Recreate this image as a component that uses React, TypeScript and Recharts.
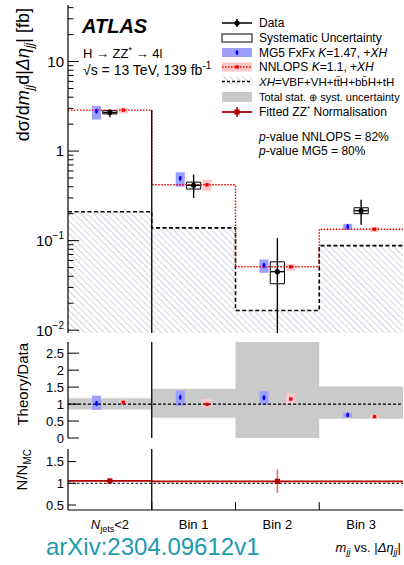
import {
  ComposedChart,
  XAxis,
  YAxis,
  Line,
  Area,
  Scatter,
  ErrorBar,
  ReferenceArea,
  ReferenceLine,
} from "recharts";

const BIN_LABELS = ["Njets<2", "Bin 1", "Bin 2", "Bin 3"];

// measured cross sections [fb]
const DATA_XS = [2.7, 0.415, 0.045, 0.216];
const DATA_TOT_LO = [2.39, 0.3, 0, 0.15];
const DATA_TOT_HI = [2.94, 0.547, 0.107, 0.286];
const DATA_SYST_LO = [2.6, 0.377, 0.033, 0.2];
const DATA_SYST_HI = [2.83, 0.45, 0.058, 0.233];

// predictions [fb]
const MG5_XS = [2.8, 0.497, 0.053, 0.143];
const MG5_LO = [2.25, 0.4, 0.0437, 0.132];
const MG5_HI = [3.2, 0.58, 0.0617, 0.154];
const NNLOPS_XS = [2.87, 0.42, 0.051, 0.134];
const NNLOPS_LO = [2.62, 0.36, 0.046, 0.125];
const NNLOPS_HI = [3.05, 0.48, 0.0547, 0.142];
const XH_XS = [0.21, 0.139, 0.0166, 0.088];

// theory / data
const TOTAL_UNC_LO = [0.84, 0.6, 0, 0.57];
const TOTAL_UNC_HI = [1.17, 1.45, 3.2, 1.52];
const MG5_RATIO = [1.02, 1.2, 1.19, 0.68];
const MG5_RATIO_LO = [0.83, 0.95, 0.98, 0.61];
const MG5_RATIO_HI = [1.25, 1.4, 1.38, 0.74];
const NNLOPS_RATIO = [1.05, 0.99, 1.15, 0.63];
const NNLOPS_RATIO_LO = [1.0, 0.9, 1.01, 0.58];
const NNLOPS_RATIO_HI = [1.13, 1.15, 1.31, 0.68];

// fitted ZZ* normalisation per region (bin edges)
const ZZ_REGION_START = [0, 1];
const ZZ_REGION_END = [1, 4];
const ZZ_NORM = [1.055, 1.045];
const ZZ_NORM_LO = [1.035, 0.78];
const ZZ_NORM_HI = [1.075, 1.32];

const Y_MIN = 0.0093;
const Y_MAX = 42.8;
const RATIO_DOMAIN: [number, number] = [0, 2.83];
const NORM_DOMAIN: [number, number] = [0.385, 1.79];
const RATIO_TICKS = [0, 0.5, 1, 1.5, 2, 2.5];
const NORM_TICKS = [0.5, 1, 1.5];

const LOG_TICKS: number[] = [];
for (let e = -2; e <= 1; e++) {
  for (let m = 1; m <= 9; m++) {
    const v = m * Math.pow(10, e);
    if (v >= Y_MIN && v <= Y_MAX) LOG_TICKS.push(v);
  }
}

const MG5_SHIFT = -0.16;
const NNLOPS_SHIFT = 0.16;
const BOX_HALF = 0.054;
const SYST_HALF = 0.085;
const DATA_XERR = 0.08;

const MG5_FILL = "#9e9eff";
const MG5_COLOR = "#0000ff";
const NNLOPS_FILL = "#ffc8c8";
const NNLOPS_COLOR = "#ee0000";
const BAND_FILL = "#cacaca";
const ZZ_COLOR = "#b00000";
const FONT = "'Liberation Sans', Arial, Helvetica, sans-serif";

const centre = (i: number) => i + 0.5;

// histogram rows for stepAfter curves: one point per lower edge + closing edge
function stepRows<T>(vals: T[]) {
  const rows = vals.map((v, i) => ({ x: i, y: v }));
  rows.push({ x: vals.length, y: vals[vals.length - 1] });
  return rows;
}

const isDecade = (v: number) =>
  Math.abs(Math.log10(v) - Math.round(Math.log10(v))) < 1e-6;

function LogLabel({ v }: { v: number }) {
  const e = Math.round(Math.log10(v));
  if (e === 0) return <>1</>;
  if (e === 1) return <>10</>;
  return (
    <>
      10
      <tspan dy={-7} fontSize={10}>
        {`−${-e}`}
      </tspan>
    </>
  );
}

function makeYTick(side: "left" | "right", len: number, fontSize: number, log: boolean) {
  return (props: any) => {
    const { x, y, payload } = props;
    const v = payload.value as number;
    const major = log ? isDecade(v) : true;
    const l = major ? len : len / 2;
    const dir = side === "left" ? 1 : -1;
    return (
      <g>
        <line x1={x} x2={x + dir * l} y1={y} y2={y} stroke="#000" strokeWidth={1} />
        {side === "left" && major && (
          <text
            x={x - 4}
            y={y + fontSize * 0.36}
            textAnchor="end"
            fontSize={fontSize}
            fill="#000"
          >
            {log ? <LogLabel v={v} /> : String(v)}
          </text>
        )}
      </g>
    );
  };
}

function makeXTick(side: "top" | "bottom", len: number) {
  return (props: any) => {
    const { x, y } = props;
    const dir = side === "bottom" ? -1 : 1;
    return <line x1={x} x2={x} y1={y} y2={y + dir * len} stroke="#000" strokeWidth={1} />;
  };
}

function BinLabelTick(props: any) {
  const { x, y, payload } = props;
  const v = payload.value as number;
  if (Number.isInteger(v)) {
    return <line x1={x} x2={x} y1={y} y2={y - 8} stroke="#000" strokeWidth={1} />;
  }
  const label = BIN_LABELS[Math.floor(v)];
  if (label.startsWith("Njets")) {
    return (
      <text x={x} y={y + 19} textAnchor="middle" fontSize={13} fill="#000">
        <tspan fontStyle="italic">N</tspan>
        <tspan fontSize={9} dy={3}>
          jets
        </tspan>
        <tspan dy={-3}>{label.slice(5)}</tspan>
      </text>
    );
  }
  return (
    <text x={x} y={y + 19} textAnchor="middle" fontSize={13} fill="#000">
      {label}
    </text>
  );
}

const dataDot = (p: any) => <circle cx={p.cx} cy={p.cy} r={2.6} fill="#000" />;
const mg5Dot = (p: any) => <ellipse cx={p.cx} cy={p.cy} rx={1.4} ry={2.6} fill={MG5_COLOR} />;
const nnlopsDot = (p: any) => (
  <rect x={p.cx - 1.7} y={p.cy - 1.7} width={3.4} height={3.4} fill={NNLOPS_COLOR} />
);
const zzDot = (p: any) => (
  <rect x={p.cx - 2.6} y={p.cy - 2.6} width={5.2} height={5.2} fill={ZZ_COLOR} />
);

const dataRows = DATA_XS.map((y, i) => ({
  x: centre(i),
  y,
  ey: [y - Math.max(DATA_TOT_LO[i], Y_MIN), DATA_TOT_HI[i] - y],
  ex: DATA_XERR,
}));
const mg5Rows = MG5_XS.map((y, i) => ({ x: centre(i) + MG5_SHIFT, y }));
const nnlopsRows = NNLOPS_XS.map((y, i) => ({ x: centre(i) + NNLOPS_SHIFT, y }));
const mg5RatioRows = MG5_RATIO.map((y, i) => ({ x: centre(i) + MG5_SHIFT, y }));
const nnlopsRatioRows = NNLOPS_RATIO.map((y, i) => ({ x: centre(i) + NNLOPS_SHIFT, y }));
const bandRows = stepRows(TOTAL_UNC_LO.map((lo, i) => [lo, TOTAL_UNC_HI[i]]));
const zzLineRows = [
  ...ZZ_NORM.map((y, i) => ({ x: ZZ_REGION_START[i], y })),
  { x: ZZ_REGION_END[ZZ_REGION_END.length - 1], y: ZZ_NORM[ZZ_NORM.length - 1] },
];
const zzRows = ZZ_NORM.map((y, i) => ({
  x: (ZZ_REGION_START[i] + ZZ_REGION_END[i]) / 2,
  y,
  ey: [y - ZZ_NORM_LO[i], ZZ_NORM_HI[i] - y],
}));

const axisLine = { stroke: "#000", strokeWidth: 1.2 };

function MainPanel() {
  return (
    <ComposedChart width={404} height={342} margin={{ top: 5, right: 1, bottom: 9, left: 0 }}>
      <XAxis
        type="number"
        dataKey="x"
        domain={[0, 4]}
        allowDataOverflow
        ticks={[1, 2, 3]}
        interval={0}
        height={0}
        tickSize={0}
        tickMargin={0}
        axisLine={axisLine}
        tick={makeXTick("bottom", 8)}
      />
      <XAxis
        xAxisId="t"
        orientation="top"
        type="number"
        domain={[0, 4]}
        allowDataOverflow
        ticks={[1, 2, 3]}
        interval={0}
        height={0}
        tickSize={0}
        tickMargin={0}
        axisLine={axisLine}
        tick={makeXTick("top", 8)}
      />
      <YAxis
        type="number"
        dataKey="y"
        scale="log"
        domain={[Y_MIN, Y_MAX]}
        allowDataOverflow
        ticks={LOG_TICKS}
        interval={0}
        width={68}
        tickSize={0}
        tickMargin={0}
        axisLine={axisLine}
        tick={makeYTick("left", 11, 15, true)}
      />
      <YAxis
        yAxisId="r"
        orientation="right"
        type="number"
        scale="log"
        domain={[Y_MIN, Y_MAX]}
        allowDataOverflow
        ticks={LOG_TICKS}
        interval={0}
        width={0}
        tickSize={0}
        tickMargin={0}
        axisLine={axisLine}
        tick={makeYTick("right", 11, 15, true)}
      />

      <Area
        data={stepRows(XH_XS)}
        dataKey="y"
        type="stepAfter"
        baseValue={Y_MIN}
        fill="url(#xh-hatch)"
        fillOpacity={1}
        stroke="#000"
        strokeWidth={1.6}
        strokeDasharray="4 2.5"
        dot={false}
        activeDot={false}
        isAnimationActive={false}
      />
      <Line
        data={stepRows(NNLOPS_XS)}
        dataKey="y"
        type="stepAfter"
        stroke={NNLOPS_COLOR}
        strokeWidth={1.4}
        strokeDasharray="1.5 1.5"
        dot={false}
        activeDot={false}
        isAnimationActive={false}
      />

      {MG5_XS.map((_, i) => (
        <ReferenceArea
          key={`mg5-${i}`}
          x1={centre(i) + MG5_SHIFT - BOX_HALF}
          x2={centre(i) + MG5_SHIFT + BOX_HALF}
          y1={MG5_LO[i]}
          y2={MG5_HI[i]}
          fill={MG5_FILL}
          fillOpacity={1}
          stroke="none"
        />
      ))}
      {NNLOPS_XS.map((_, i) => (
        <ReferenceArea
          key={`nnlops-${i}`}
          x1={centre(i) + NNLOPS_SHIFT - BOX_HALF}
          x2={centre(i) + NNLOPS_SHIFT + BOX_HALF}
          y1={NNLOPS_LO[i]}
          y2={NNLOPS_HI[i]}
          fill={NNLOPS_FILL}
          fillOpacity={1}
          stroke="none"
        />
      ))}
      {DATA_XS.map((_, i) => (
        <ReferenceArea
          key={`syst-${i}`}
          x1={centre(i) - SYST_HALF}
          x2={centre(i) + SYST_HALF}
          y1={DATA_SYST_LO[i]}
          y2={DATA_SYST_HI[i]}
          fill="none"
          fillOpacity={0}
          stroke="#000"
          strokeWidth={1}
        />
      ))}
      <ReferenceLine
        segment={[
          { x: 1, y: NNLOPS_XS[0] },
          { x: 1, y: Y_MIN },
        ]}
        stroke="#000"
        strokeWidth={1.3}
      />

      <Scatter data={mg5Rows} dataKey="y" shape={mg5Dot} isAnimationActive={false} />
      <Scatter data={nnlopsRows} dataKey="y" shape={nnlopsDot} isAnimationActive={false} />
      <Scatter data={dataRows} dataKey="y" shape={dataDot} isAnimationActive={false}>
        <ErrorBar dataKey="ey" direction="y" width={0} stroke="#000" strokeWidth={1.4} />
        <ErrorBar dataKey="ex" direction="x" width={0} stroke="#000" strokeWidth={1.4} />
      </Scatter>
    </ComposedChart>
  );
}

function RatioPanel() {
  return (
    <ComposedChart width={404} height={108} margin={{ top: 4, right: 1, bottom: 8, left: 0 }}>
      <XAxis
        type="number"
        dataKey="x"
        domain={[0, 4]}
        allowDataOverflow
        ticks={[1, 2, 3]}
        interval={0}
        height={0}
        tickSize={0}
        tickMargin={0}
        axisLine={axisLine}
        tick={makeXTick("bottom", 8)}
      />
      <XAxis
        xAxisId="t"
        orientation="top"
        type="number"
        domain={[0, 4]}
        allowDataOverflow
        ticks={[1, 2, 3]}
        interval={0}
        height={0}
        tickSize={0}
        tickMargin={0}
        axisLine={axisLine}
        tick={makeXTick("top", 8)}
      />
      <YAxis
        type="number"
        dataKey="y"
        domain={RATIO_DOMAIN}
        allowDataOverflow
        ticks={RATIO_TICKS}
        interval={0}
        width={68}
        tickSize={0}
        tickMargin={0}
        axisLine={axisLine}
        tick={makeYTick("left", 11, 13, false)}
      />
      <YAxis
        yAxisId="r"
        orientation="right"
        type="number"
        domain={RATIO_DOMAIN}
        allowDataOverflow
        ticks={RATIO_TICKS}
        interval={0}
        width={0}
        tickSize={0}
        tickMargin={0}
        axisLine={axisLine}
        tick={makeYTick("right", 11, 13, false)}
      />

      <Area
        data={bandRows}
        dataKey="y"
        type="stepAfter"
        fill={BAND_FILL}
        fillOpacity={1}
        stroke="none"
        dot={false}
        activeDot={false}
        isAnimationActive={false}
      />
      <ReferenceLine y={1} stroke="#000" strokeWidth={1.2} strokeDasharray="3 2" />
      <ReferenceLine x={1} stroke="#000" strokeWidth={1.3} />

      {MG5_RATIO.map((_, i) => (
        <ReferenceArea
          key={`mg5r-${i}`}
          x1={centre(i) + MG5_SHIFT - BOX_HALF}
          x2={centre(i) + MG5_SHIFT + BOX_HALF}
          y1={MG5_RATIO_LO[i]}
          y2={MG5_RATIO_HI[i]}
          fill={MG5_FILL}
          fillOpacity={1}
          stroke="none"
        />
      ))}
      {NNLOPS_RATIO.map((_, i) => (
        <ReferenceArea
          key={`nnlopsr-${i}`}
          x1={centre(i) + NNLOPS_SHIFT - BOX_HALF}
          x2={centre(i) + NNLOPS_SHIFT + BOX_HALF}
          y1={NNLOPS_RATIO_LO[i]}
          y2={NNLOPS_RATIO_HI[i]}
          fill={NNLOPS_FILL}
          fillOpacity={1}
          stroke="none"
        />
      ))}

      <Scatter data={mg5RatioRows} dataKey="y" shape={mg5Dot} isAnimationActive={false} />
      <Scatter data={nnlopsRatioRows} dataKey="y" shape={nnlopsDot} isAnimationActive={false} />
    </ComposedChart>
  );
}

function NormPanel() {
  return (
    <ComposedChart width={404} height={120} margin={{ top: 9, right: 1, bottom: 0, left: 0 }}>
      <XAxis
        type="number"
        dataKey="x"
        domain={[0, 4]}
        allowDataOverflow
        ticks={[0.5, 1, 1.5, 2, 2.5, 3, 3.5]}
        interval={0}
        height={50}
        tickSize={0}
        tickMargin={0}
        axisLine={axisLine}
        tick={BinLabelTick}
      />
      <XAxis
        xAxisId="t"
        orientation="top"
        type="number"
        domain={[0, 4]}
        allowDataOverflow
        ticks={[1, 2, 3]}
        interval={0}
        height={0}
        tickSize={0}
        tickMargin={0}
        axisLine={axisLine}
        tick={makeXTick("top", 8)}
      />
      <YAxis
        type="number"
        dataKey="y"
        domain={NORM_DOMAIN}
        allowDataOverflow
        ticks={NORM_TICKS}
        interval={0}
        width={68}
        tickSize={0}
        tickMargin={0}
        axisLine={axisLine}
        tick={makeYTick("left", 8, 13, false)}
      />
      <YAxis
        yAxisId="r"
        orientation="right"
        type="number"
        domain={NORM_DOMAIN}
        allowDataOverflow
        ticks={NORM_TICKS}
        interval={0}
        width={0}
        tickSize={0}
        tickMargin={0}
        axisLine={axisLine}
        tick={makeYTick("right", 8, 13, false)}
      />

      <ReferenceLine y={1} stroke="#000" strokeWidth={1} strokeDasharray="2.5 2" />
      <ReferenceArea
        x1={ZZ_REGION_START[0]}
        x2={ZZ_REGION_END[0]}
        y1={ZZ_NORM_LO[0]}
        y2={ZZ_NORM_HI[0]}
        fill="#e89090"
        fillOpacity={0.7}
        stroke="none"
      />
      <Line
        data={zzLineRows}
        dataKey="y"
        type="stepAfter"
        stroke={ZZ_COLOR}
        strokeWidth={1.8}
        dot={false}
        activeDot={false}
        isAnimationActive={false}
      />
      <ReferenceLine x={1} stroke="#000" strokeWidth={1.3} />
      <Scatter data={zzRows} dataKey="y" shape={zzDot} isAnimationActive={false}>
        <ErrorBar dataKey="ey" direction="y" width={0} stroke="#e07070" strokeWidth={1.6} />
      </Scatter>
    </ComposedChart>
  );
}

function Overlay() {
  const LX = 222;
  const LW = 30;
  const MID = LX + LW / 2;
  const TX = 259;
  const rows = [23, 38, 52.5, 67, 81.5, 97, 112];
  const t = (y: number) => y + 4.2;
  return (
    <svg
      width={404}
      height={565}
      style={{ position: "absolute", left: 0, top: 0, pointerEvents: "none" }}
    >
      <defs>
        <pattern
          id="xh-hatch"
          patternUnits="userSpaceOnUse"
          width={4.5}
          height={4.5}
          patternTransform="rotate(-45)"
        >
          <line x1={0} y1={0} x2={0} y2={4.5} stroke="#a7abbd" strokeWidth={1} />
        </pattern>
      </defs>

      <text x={82} y={33} fontSize={20} fontWeight="bold" fontStyle="italic">
        ATLAS
      </text>
      <text x={83} y={58} fontSize={13}>
        H → ZZ
        <tspan dy={-5} fontSize={9}>
          *
        </tspan>
        <tspan dy={5}> → 4l</tspan>
      </text>
      <text x={83} y={75} fontSize={14}>
        √s = 13 TeV, 139 fb
        <tspan dy={-6} fontSize={10}>
          -1
        </tspan>
      </text>

      {/* legend */}
      <g fontSize={12} fill="#000">
        <line x1={LX} x2={LX + LW} y1={rows[0]} y2={rows[0]} stroke="#000" strokeWidth={1.5} />
        <line x1={MID} x2={MID} y1={rows[0] - 4} y2={rows[0] + 4} stroke="#000" strokeWidth={1.5} />
        <circle cx={MID} cy={rows[0]} r={2.6} fill="#000" />
        <text x={TX} y={t(rows[0])}>Data</text>

        <rect x={LX} y={rows[1] - 4} width={LW} height={8} fill="#fff" stroke="#000" strokeWidth={1} />
        <text x={TX} y={t(rows[1])}>Systematic Uncertainty</text>

        <rect x={LX} y={rows[2] - 4.5} width={LW} height={9} fill={MG5_FILL} />
        <ellipse cx={MID} cy={rows[2]} rx={1.4} ry={2.6} fill={MG5_COLOR} />
        <text x={TX} y={t(rows[2])}>
          MG5 FxFx <tspan fontStyle="italic">K</tspan>=1.47, +<tspan fontStyle="italic">XH</tspan>
        </text>

        <rect x={LX} y={rows[3] - 4.5} width={LW} height={9} fill={NNLOPS_FILL} />
        <line
          x1={LX}
          x2={LX + LW}
          y1={rows[3]}
          y2={rows[3]}
          stroke={NNLOPS_COLOR}
          strokeWidth={1.3}
          strokeDasharray="1.5 1.5"
        />
        <rect x={MID - 1.7} y={rows[3] - 1.7} width={3.4} height={3.4} fill={NNLOPS_COLOR} />
        <text x={TX} y={t(rows[3])}>
          NNLOPS <tspan fontStyle="italic">K</tspan>=1.1, +<tspan fontStyle="italic">XH</tspan>
        </text>

        <rect x={LX} y={rows[4] - 5} width={LW} height={9} fill="url(#xh-hatch)" />
        <line
          x1={LX}
          x2={LX + LW}
          y1={rows[4]}
          y2={rows[4]}
          stroke="#000"
          strokeWidth={1.4}
          strokeDasharray="3 2"
        />
        <text x={TX} y={t(rows[4])} fontSize={11.5}>
          <tspan fontStyle="italic">XH</tspan>=VBF+VH+tt̄H+bb̄H+tH
        </text>

        <rect x={LX} y={rows[5] - 5} width={LW} height={10} fill={BAND_FILL} />
        <text x={TX} y={t(rows[5])} fontSize={11}>
          Total stat. <tspan fontSize={10}>⊕</tspan> syst. uncertainty
        </text>

        <line x1={LX} x2={LX + LW} y1={rows[6]} y2={rows[6]} stroke={ZZ_COLOR} strokeWidth={1.8} />
        <line x1={MID} x2={MID} y1={rows[6] - 5} y2={rows[6] + 5} stroke={ZZ_COLOR} strokeWidth={1.5} />
        <rect x={MID - 2.6} y={rows[6] - 2.6} width={5.2} height={5.2} fill={ZZ_COLOR} />
        <text x={TX} y={t(rows[6])}>
          Fitted ZZ
          <tspan dy={-5} fontSize={8}>
            *
          </tspan>
          <tspan dy={5}> Normalisation</tspan>
        </text>

        <text x={TX} y={t(137)}>
          <tspan fontStyle="italic">p</tspan>-value NNLOPS = 82%
        </text>
        <text x={TX} y={t(151)}>
          <tspan fontStyle="italic">p</tspan>-value MG5 = 80%
        </text>
      </g>

      {/* axis titles */}
      <text x={29} y={8} transform="rotate(-90 29 8)" textAnchor="end" fontSize={18}>
        dσ/d<tspan fontStyle="italic">m</tspan>
        <tspan fontStyle="italic" fontSize={12} dy={4}>
          jj
        </tspan>
        <tspan dy={-4}>d|</tspan>
        <tspan fontStyle="italic">Δη</tspan>
        <tspan fontStyle="italic" fontSize={12} dy={4}>
          jj
        </tspan>
        <tspan dy={-4}>| [fb]</tspan>
      </text>
      <text x={28} y={343} transform="rotate(-90 28 343)" textAnchor="end" fontSize={15}>
        Theory/Data
      </text>
      <text x={27} y={449} transform="rotate(-90 27 449)" textAnchor="end" fontSize={15}>
        N/N
        <tspan fontSize={10} dy={4}>
          MC
        </tspan>
      </text>

      <text x={46} y={555} fontSize={24} fill="#1e9aae">
        arXiv:2304.09612v1
      </text>
      <text x={401} y={552} textAnchor="end" fontSize={13}>
        <tspan fontStyle="italic">m</tspan>
        <tspan fontStyle="italic" fontSize={9} dy={3}>
          jj
        </tspan>
        <tspan dy={-3}> vs. |</tspan>
        <tspan fontStyle="italic">Δη</tspan>
        <tspan fontStyle="italic" fontSize={9} dy={3}>
          jj
        </tspan>
        <tspan dy={-3}>|</tspan>
      </text>
    </svg>
  );
}

export default function App() {
  return (
    <div style={{ position: "relative", width: 404, height: 565, fontFamily: FONT }}>
      <style>{"body{margin:0}"}</style>
      <div style={{ position: "absolute", left: 0, top: 0 }}>
        <MainPanel />
      </div>
      <div style={{ position: "absolute", left: 0, top: 338 }}>
        <RatioPanel />
      </div>
      <div style={{ position: "absolute", left: 0, top: 440 }}>
        <NormPanel />
      </div>
      <Overlay />
    </div>
  );
}
